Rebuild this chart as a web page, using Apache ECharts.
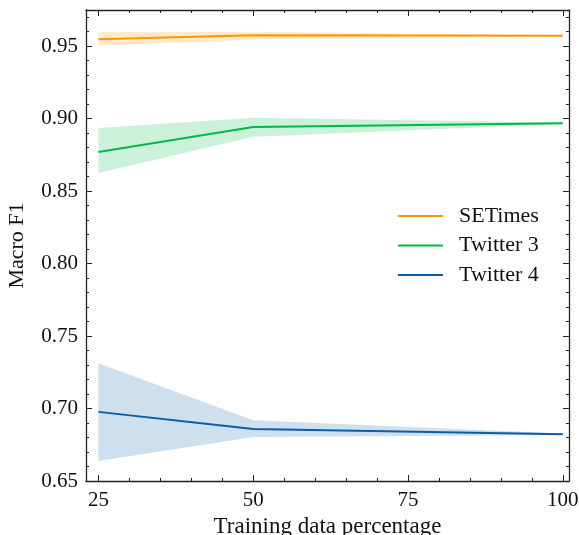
<!DOCTYPE html>
<html>
<head>
<meta charset="utf-8">
<script src="https://cdn.jsdelivr.net/npm/echarts@6/dist/echarts.min.js"></script>
<style>
  html, body { margin: 0; padding: 0; background: #fff; }
  #chart { width: 579px; height: 535px; }
</style>
</head>
<body>
<div id="chart"></div>
<script>
// training data percentage
var xPoints = [25, 50, 100];

// SETimes
var seMean = [0.9548, 0.9575, 0.9572];
var seLow = [0.9503, 0.9546, 0.9569];
var seHigh = [0.9600, 0.9600, 0.9575];

// Twitter 3
var t3Mean = [0.8770, 0.8943, 0.8968];
var t3Low = [0.8625, 0.8876, 0.8963];
var t3High = [0.8936, 0.9007, 0.8973];

// Twitter 4
var t4Mean = [0.6977, 0.6859, 0.6822];
var t4Low = [0.6638, 0.6804, 0.6817];
var t4High = [0.7313, 0.6919, 0.6827];

var xMajor = [25, 50, 75, 100];
var xMinor = [25, 30, 35, 40, 45, 50, 55, 60, 65, 70, 75, 80, 85, 90, 95, 100];
var yMajor = [0.65, 0.70, 0.75, 0.80, 0.85, 0.90, 0.95];
var yMinor = [0.65, 0.66, 0.67, 0.68, 0.69, 0.70, 0.71, 0.72, 0.73, 0.74, 0.75, 0.76, 0.77,
  0.78, 0.79, 0.80, 0.81, 0.82, 0.83, 0.84, 0.85, 0.86, 0.87, 0.88, 0.89, 0.90, 0.91,
  0.92, 0.93, 0.94, 0.95, 0.96, 0.97];

var names = ['SETimes', 'Twitter 3', 'Twitter 4'];
var colors = ['#FF9500', '#00B945', '#0C5DA5'];
var means = [seMean, t3Mean, t4Mean];
var lows = [seLow, t3Low, t4Low];
var highs = [seHigh, t3High, t4High];

var font = 'Liberation Serif';
var ink = '#222';

function pairs(xs, ys) {
  return xs.map(function (x, i) { return [x, ys[i]]; });
}

function makeAxis(pos, ticks, len, line, extra) {
  var ax = {
    type: 'value',
    position: pos,
    axisLine: { show: line, lineStyle: { color: ink, width: 1.3 } },
    axisTick: { show: true, inside: true, length: len, customValues: ticks,
      lineStyle: { color: ink, width: 1 } },
    axisLabel: { show: false },
    splitLine: { show: false }
  };
  return Object.assign(ax, extra);
}

var xr = { min: 23, max: 101 };
var yr = { min: 0.65, max: 0.975 };

var xAxes = [
  makeAxis('bottom', xMajor, 6, true, Object.assign({
    name: 'Training data percentage', nameLocation: 'middle', nameGap: 33,
    nameTextStyle: { fontFamily: font, fontSize: 23, color: '#111' },
    axisLabel: { show: true, customValues: xMajor, margin: 9,
      fontFamily: font, fontSize: 21, color: '#111' }
  }, xr)),
  makeAxis('bottom', xMinor, 3, false, Object.assign({}, xr)),
  makeAxis('top', xMajor, 6, true, Object.assign({}, xr)),
  makeAxis('top', xMinor, 3, false, Object.assign({}, xr))
];

var yAxes = [
  makeAxis('left', yMajor, 6, true, Object.assign({
    name: 'Macro F1', nameLocation: 'middle', nameGap: 58,
    nameTextStyle: { fontFamily: font, fontSize: 22, color: '#111' },
    axisLabel: { show: true, customValues: yMajor, margin: 8,
      fontFamily: font, fontSize: 21, color: '#111',
      formatter: function (v) { return v.toFixed(2); } }
  }, yr)),
  makeAxis('left', yMinor, 3, false, Object.assign({}, yr)),
  makeAxis('right', yMajor, 6, true, Object.assign({}, yr)),
  makeAxis('right', yMinor, 3, false, Object.assign({}, yr))
];

// shaded band between low and high, drawn as one polygon via the axes' scales
function bandSeries(k) {
  var data = xPoints.map(function (x, i) { return [x, lows[k][i], highs[k][i]]; });
  return {
    type: 'custom', silent: true, z: 1,
    data: data,
    encode: { x: 0, y: [1, 2] },
    renderItem: function (params, api) {
      if (params.dataIndex !== 0) return null;
      var top = data.map(function (d) { return api.coord([d[0], d[2]]); });
      var bot = data.map(function (d) { return api.coord([d[0], d[1]]); }).reverse();
      return {
        type: 'polygon',
        shape: { points: top.concat(bot) },
        style: { fill: colors[k], opacity: 0.2 }
      };
    }
  };
}

var series = [];
names.forEach(function (nm, k) { series.push(bandSeries(k)); });
names.forEach(function (nm, k) {
  series.push({
    name: nm, type: 'line', data: pairs(xPoints, means[k]),
    symbol: 'none', color: colors[k], z: 3,
    lineStyle: { color: colors[k], width: 2 }
  });
});

var myChart = echarts.init(document.getElementById('chart'));
var option = {
  animation: false,
  backgroundColor: '#fff',
  grid: { left: 86, right: 10, top: 10, bottom: 54, outerBoundsMode: 'none' },
  xAxis: xAxes,
  yAxis: yAxes,
  legend: {
    data: names.map(function (nm) { return { name: nm, icon: 'rect' }; }),
    orient: 'vertical',
    left: 393, top: 200,
    itemWidth: 45, itemHeight: 2, itemGap: 7.5,
    textStyle: { fontFamily: font, fontSize: 22, color: '#111', padding: [0, 0, 0, 11] }
  },
  series: series
};
myChart.setOption(option);
</script>
</body>
</html>
